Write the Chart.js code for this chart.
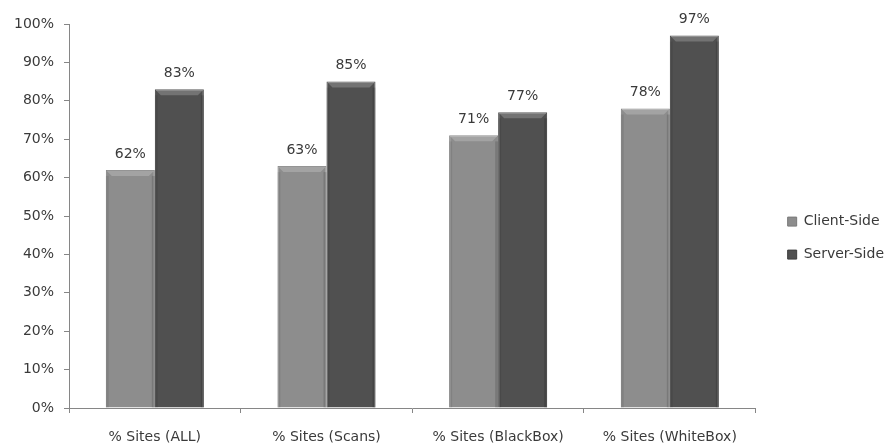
<!DOCTYPE html>
<html>
<head>
<meta charset="utf-8">
<script src="https://cdn.jsdelivr.net/npm/chart.js@4/dist/chart.umd.min.js"></script>
<style>
  html, body { margin: 0; padding: 0; background: #ffffff; }
  #wrap { width: 889px; height: 446px; }
</style>
</head>
<body>
<div id="wrap"><canvas id="c" width="889" height="446"></canvas></div>
<script>
// Share of sites with vulnerabilities, by assessment type
const categories = ['% Sites (ALL)', '% Sites (Scans)', '% Sites (BlackBox)', '% Sites (WhiteBox)'];
const clientSide = [62, 63, 71, 78];
const serverSide = [83, 85, 77, 97];
const seriesNames = ['Client-Side', 'Server-Side'];

const FONT = "'DejaVu Sans', sans-serif";
const TEXT = '#3a3a3a';
const AXIS = '#868686';

// Writes the percentage above each bar
const valueLabels = {
  id: 'valueLabels',
  afterDatasetsDraw(chart) {
    const ctx = chart.ctx;
    ctx.save();
    ctx.font = '14px ' + FONT;
    ctx.fillStyle = TEXT;
    ctx.textAlign = 'center';
    ctx.textBaseline = 'bottom';
    chart.data.datasets.forEach((ds, i) => {
      chart.getDatasetMeta(i).data.forEach((bar, j) => {
        ctx.fillText(ds.data[j] + '%', bar.x, bar.y - 9);
      });
    });
    ctx.restore();
  }
};

// Light bevel along the top and shading on the sides of each bar
const bevel = {
  id: 'bevel',
  afterDatasetsDraw(chart) {
    const ctx = chart.ctx;
    ctx.save();
    chart.data.datasets.forEach((ds, i) => {
      chart.getDatasetMeta(i).data.forEach((bar) => {
        const l = bar.x - bar.width / 2, r = bar.x + bar.width / 2;
        const t = bar.y, b = bar.base;
        ctx.fillStyle = 'rgba(255,255,255,0.20)';
        ctx.beginPath();
        ctx.moveTo(l, t); ctx.lineTo(r, t); ctx.lineTo(r - 6, t + 6); ctx.lineTo(l + 6, t + 6);
        ctx.closePath(); ctx.fill();
        ctx.fillStyle = 'rgba(0,0,0,0.08)';
        ctx.fillRect(l, t + 6, 3, b - t - 6);
        ctx.fillStyle = 'rgba(0,0,0,0.14)';
        ctx.fillRect(r - 3, t + 6, 3, b - t - 6);
      });
    });
    ctx.restore();
  }
};

new Chart(document.getElementById('c'), {
  type: 'bar',
  data: {
    labels: categories,
    datasets: [
      { label: seriesNames[0], data: clientSide, yAxisID: 'y', backgroundColor: '#8d8d8d', borderColor: '#7a7a7a', borderWidth: 1 },
      { label: seriesNames[1], data: serverSide, yAxisID: 'y', backgroundColor: '#505050', borderColor: '#3e3e3e', borderWidth: 1 }
    ]
  },
  options: {
    responsive: false,
    animation: false,
    devicePixelRatio: 1,
    layout: { padding: { left: 14, top: 24, right: -5, bottom: 0 } },
    datasets: { bar: { categoryPercentage: 0.571, barPercentage: 1.0 } },
    plugins: {
      tooltip: { enabled: false },
      legend: {
        position: 'right',
        title: { display: true, text: '', font: { size: 1 }, padding: { top: 5, bottom: 0 } },
        labels: {
          boxWidth: 9, boxHeight: 9, padding: 19,
          color: TEXT,
          font: { family: FONT, size: 14 }
        }
      }
    },
    scales: {
      x: {
        grid: { display: true, drawOnChartArea: false, drawTicks: true, tickLength: 5, color: AXIS, offset: true },
        border: { display: true, color: AXIS },
        ticks: { color: TEXT, padding: 16, font: { family: FONT, size: 14 }, maxRotation: 0 },
        afterFit(scale) { scale.height = 38; }
      },
      y: {
        position: 'left',
        min: 0, max: 100,
        grid: { display: true, drawOnChartArea: false, drawTicks: true, tickLength: 5, color: AXIS },
        border: { display: true, color: AXIS },
        ticks: { stepSize: 10, color: TEXT, padding: 10, font: { family: FONT, size: 14 }, callback: v => v + '%' },
        afterFit(scale) { scale.width = 55; }
      },
      // empty gutter between the plot and the legend
      gutter: {
        axis: 'y',
        position: 'right',
        display: true,
        grid: { display: false },
        border: { display: false },
        ticks: { display: false },
        afterFit(scale) { scale.width = 13; }
      }
    }
  },
  plugins: [valueLabels, bevel]
});
</script>
</body>
</html>
